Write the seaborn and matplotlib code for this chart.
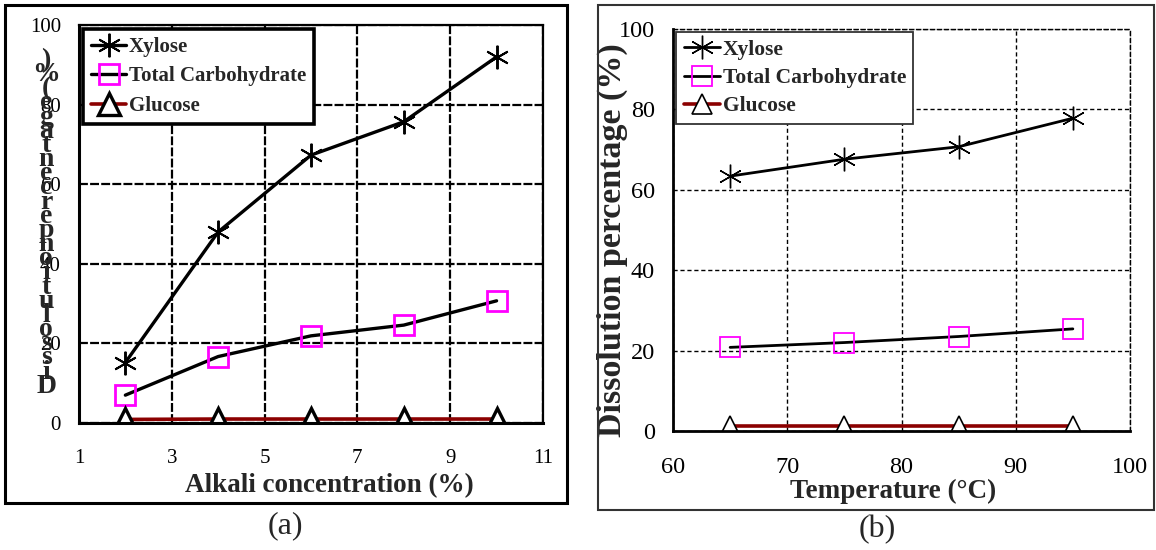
import matplotlib
matplotlib.use("Agg")
import matplotlib.pyplot as plt
import seaborn as sns
import pandas as pd
from matplotlib.patches import Rectangle

sns.set_theme(style="white")
plt.rcParams['font.family'] = ['Liberation Serif', 'DejaVu Serif']

# --- (a) alkali concentration ---
alkali = [2, 4, 6, 8, 10]
xylose_a = [15.2, 48.0, 67.3, 75.7, 92.0]
total_a = [7.0, 16.7, 21.9, 24.6, 30.7]
glucose_a = [0.9, 1.0, 1.0, 1.0, 1.0]

# --- (b) temperature ---
temp = [65, 75, 85, 95]
xylose_b = [63.4, 67.6, 70.7, 77.8]
total_b = [20.8, 22.0, 23.5, 25.4]
glucose_b = [1.2, 1.2, 1.2, 1.2]

ylabel = 'Dissolution percentage (%)'
red = '#8B0000'
asterisk = (6, 2, 0)

fig = plt.figure(figsize=(11.56, 5.5), dpi=100)
ax1 = fig.add_axes([0.0683, 0.2309, 0.4014, 0.7236])
ax2 = fig.add_axes([0.5822, 0.2164, 0.3953, 0.7309])

# outer panel boxes
fig.patches.append(Rectangle((0.0043, 0.0855), 0.4862, 0.9054, transform=fig.transFigure,
                             fill=False, edgecolor='black', lw=2.2, zorder=0))
fig.patches.append(Rectangle((0.5173, 0.0727), 0.4810, 0.9182, transform=fig.transFigure,
                             fill=False, edgecolor='#333333', lw=1.5, zorder=0))

# Plot (a)
sns.lineplot(x=alkali, y=xylose_a, ax=ax1, color='black', lw=2.4, marker=asterisk,
             markersize=17, markeredgecolor='black', markeredgewidth=1.4, label='Xylose')
sns.lineplot(x=alkali, y=total_a, ax=ax1, color='black', lw=2.4, marker='s',
             markersize=14, markerfacecolor='none', markeredgecolor='magenta',
             markeredgewidth=2, label='Total Carbohydrate')
sns.lineplot(x=alkali, y=glucose_a, ax=ax1, color=red, lw=2.6, marker='^',
             markersize=16, markerfacecolor='white', markeredgecolor='black',
             markeredgewidth=2.4, label='Glucose')
ax1.set_xlim(1, 11)
ax1.set_xticks([1, 3, 5, 7, 9, 11])
ax1.grid(True, color='black', linestyle=(0, (4, 1)), lw=1.6)
ax1.legend(loc='upper left', prop={'weight': 'bold', 'size': 15}, frameon=True,
           fancybox=False, edgecolor='black', framealpha=1, borderaxespad=0.2,
           handlelength=1.7, handletextpad=0.1, labelspacing=0.45,
           borderpad=0.38).get_frame().set_linewidth(2.6)
ax1.set_ylabel('')
ax1.set_xlabel('Alkali concentration (%)', fontsize=19.5, fontweight='bold')
ax1.xaxis.set_label_coords(0.539, -0.125)
# the y label in the source figure is drawn as a stacked column of glyphs
fig.text(0.04, 0.594, '\n'.join(reversed(ylabel.replace(' ', ''))), fontsize=20,
         fontweight='bold', ha='center', va='center', linespacing=0.43,
         multialignment='center')

# Plot (b)
sns.lineplot(x=temp, y=xylose_b, ax=ax2, color='black', lw=2.0, marker=asterisk,
             markersize=17, markeredgecolor='black', markeredgewidth=1.0, label='Xylose')
sns.lineplot(x=temp, y=total_b, ax=ax2, color='black', lw=2.0, marker='s',
             markersize=14, markerfacecolor='none', markeredgecolor='magenta',
             markeredgewidth=1.3, label='Total Carbohydrate')
sns.lineplot(x=temp, y=glucose_b, ax=ax2, color=red, lw=2.6, marker='^',
             markersize=15, markerfacecolor='white', markeredgecolor='black',
             markeredgewidth=1.2, label='Glucose')
ax2.set_xlim(60, 100)
ax2.set_xticks([60, 70, 80, 90, 100])
ax2.grid(True, color='black', linestyle=(0, (3, 2)), lw=1.0)
ax2.legend(loc='upper left', prop={'weight': 'bold', 'size': 15.5}, frameon=True,
           fancybox=False, edgecolor='#333333', framealpha=1, borderaxespad=0.15,
           handlelength=1.7, handletextpad=0.1, labelspacing=0.38,
           borderpad=0.35).get_frame().set_linewidth(1.3)
ax2.set_xlabel('Temperature (°C)', fontsize=19.5, fontweight='bold')
ax2.set_ylabel(ylabel, fontsize=24.5, fontweight='bold')
ax2.xaxis.set_label_coords(0.481, -0.12)
ax2.yaxis.set_label_coords(-0.098, 0.475)

for ax, lw, gls, glw, fs in [(ax1, 2.2, (0, (4, 1)), 1.6, 15),
                             (ax2, 2.0, (0, (3, 2)), 1.0, 17.5)]:
    ax.set_ylim(0, 100)
    ax.set_yticks([0, 20, 40, 60, 80, 100])
    ax.set_axisbelow(True)
    for s in ['left', 'bottom']:
        ax.spines[s].set_color('black')
        ax.spines[s].set_linewidth(lw)
    for s in ['top', 'right']:
        ax.spines[s].set_color('black')
        ax.spines[s].set_linewidth(glw)
        ax.spines[s].set_linestyle(gls)
    ax.tick_params(axis='both', labelsize=fs, colors='black', length=3,
                   width=1.5, direction='out')
    ax.tick_params(axis='x', pad=16)
    ax.tick_params(axis='y', pad=10)

fig.text(0.2465, 0.045, '(a)', fontsize=23, ha='center', va='center')
fig.text(0.7587, 0.037, '(b)', fontsize=23, ha='center', va='center')

fig.savefig('out.png', dpi=100)
